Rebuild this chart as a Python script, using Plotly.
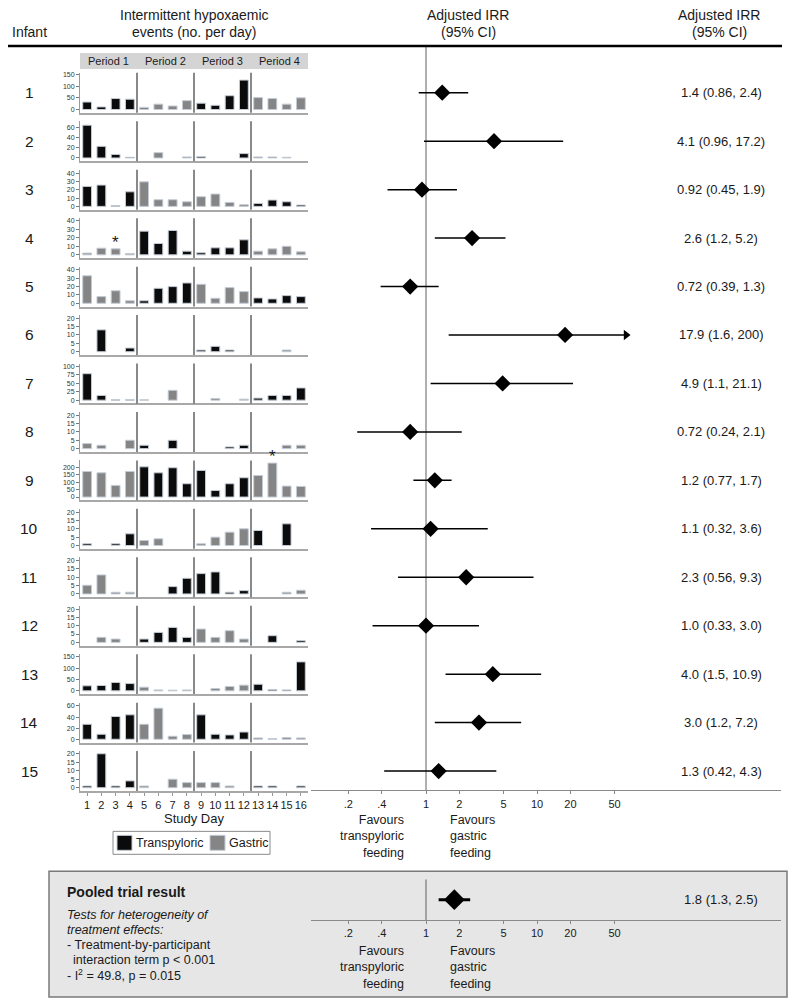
import plotly.graph_objects as go

# ---------------- data ----------------
infants = list(range(1, 16))
days = list(range(1, 17))
period_labels = ["Period 1", "Period 2", "Period 3", "Period 4"]
# arm per period: T = transpyloric, G = gastric
period_arm = ["TGTG", "TGTG", "TGGT", "GTTG", "GTGT", "TGTG", "TGGT", "GTTG",
              "GTTG", "TGGT", "GTTG", "GTGT", "TGGT", "TGTG", "TGGT"]
N = None
events = [
    [32, 11, 47, 44, 9, 23, 15, 38, 27, 18, 59, 126, 51, 47, 23, 50],
    [65, 23, 7, 1.3, N, 10.5, N, 2, 2.6, N, N, 8.6, 2, 2, 1.3, N],
    [24, 25.6, 1, 17.5, 29.5, 8, 8, 5.5, 11.6, 14.8, 4.8, 2, 3.6, 7.6, 5.5, 1.6],
    [2, 7.8, 7, 1.6, 27.8, 13.3, 28.6, 4.3, 2.4, 8.2, 8.2, 17.6, 4.3, 7, 10, 3.5],
    [33, 8, 15, 3, 3, 18, 20, 24.4, 22.8, 6, 18.8, 14, 6.4, 5.2, 9.2, 8],
    [N, 13, N, 2.2, N, N, N, N, 1, 3.2, 1, N, N, N, 1, N],
    [78, 14, 1.5, 1.5, 1, N, 29, N, N, 5, N, 3, 6, 14, 14, 36],
    [3, 2, N, 5, 2, N, 5, N, N, N, 1, 2, N, N, 2, 2],
    [171, 162, 78, 171, 202, 162, 196, 89, 178, 44, 89, 129, 144, 227, 73, 71],
    [1, N, 1, 7, 3, 4, N, N, 1, 5, 8, 10, 9, N, 13, N],
    [5.2, 11.4, 1, 1, N, N, 4.4, 9.4, 12.2, 13.2, 1, 2, N, N, 1, 2.2],
    [N, 3, 2, N, 2, 6, 9, 3, 8, 3, 7, 2, N, 4, N, 1],
    [22, 23.5, 37, 32, 16, 4, 3, 4, N, 10, 19, 25, 29, 6, 4, 128],
    [27, 9, 41, 44, 27, 56, 5.4, 8.4, 44, 9, 7.8, 13, 2.4, 1.2, 3, 2.4],
    [1, 20, 1, 4, 1, N, 5, 3, 3, 3, 1, N, 1, 1, N, 1],
]
y_ticks = [[0, 50, 100, 150], [0, 20, 40, 60], [0, 10, 20, 30, 40], [0, 10, 20, 30, 40],
           [0, 10, 20, 30, 40], [0, 5, 10, 15, 20], [0, 25, 50, 75, 100], [0, 5, 10, 15, 20],
           [0, 50, 100, 150, 200], [0, 5, 10, 15, 20], [0, 5, 10, 15, 20], [0, 5, 10, 15, 20],
           [0, 50, 100, 150], [0, 20, 40, 60], [0, 5, 10, 15, 20]]
asterisks = [(4, 3), (9, 14)]  # (infant, day)

irr = [1.4, 4.1, 0.92, 2.6, 0.72, 17.9, 4.9, 0.72, 1.2, 1.1, 2.3, 1.0, 4.0, 3.0, 1.3]
ci_low = [0.86, 0.96, 0.45, 1.2, 0.39, 1.6, 1.1, 0.24, 0.77, 0.32, 0.56, 0.33, 1.5, 1.2, 0.42]
ci_high = [2.4, 17.2, 1.9, 5.2, 1.3, 200, 21.1, 2.1, 1.7, 3.6, 9.3, 3.0, 10.9, 7.2, 4.3]
pooled_irr, pooled_low, pooled_high = 1.8, 1.3, 2.5
irr_tickvals = [0.2, 0.4, 1, 2, 5, 10, 20, 50]
irr_ticktext = [".2", ".4", "1", "2", "5", "10", "20", "50"]

# ---------------- style / layout ----------------
OFF = 8                      # page body margin of the html page
W, H = 800 - OFF, 1005 - OFF
FONT = "Liberation Sans, Arial, Helvetica, sans-serif"
TXT = "#1a1a1a"
BLACK_BAR = "#0b0b0b"
GRAY_BAR = "#858585"
axis_top = [157, 72.7, 44, 43, 44, 21.8, 108, 22, 245, 22, 22, 22, 162, 66, 21.6]
ROW_ZERO0, ROW_STEP = 107.7, 48.54
ARROW_CAP = 63.4


def px(xp):
    return (xp - OFF) / W


def py(yp):
    return 1 - (yp - OFF) / H


def sfx(k):
    return "" if k == 1 else str(k)


fig = go.Figure()
layout = dict(width=W, height=H, margin=dict(l=0, r=0, t=0, b=0),
              paper_bgcolor="white", plot_bgcolor="rgba(0,0,0,0)",
              showlegend=False, font=dict(family=FONT, color=TXT))
shapes, annos = [], []

colors = {"T": BLACK_BAR, "G": GRAY_BAR}
names = {"T": "Transpyloric", "G": "Gastric"}

for i, inf in enumerate(infants):
    k = i + 1
    s = sfx(k)
    zero = ROW_ZERO0 + ROW_STEP * i
    bottom = zero + 3.3
    top = bottom - 40
    for arm in ["T", "G"]:
        xs, ys = [], []
        for d, v in zip(days, events[i]):
            p = (d - 1) // 4
            if period_arm[i][p] == arm and v is not None:
                xs.append(d)
                ys.append(v)
        fig.add_trace(go.Bar(x=xs, y=ys, name=names[arm], width=0.62,
                             marker=dict(color=colors[arm],
                                         line=dict(color="#c3ccd6", width=1)),
                             xaxis=f"x{s}", yaxis=f"y{s}"))
    R = axis_top[i]
    last = (k == len(infants))
    layout[f"xaxis{s}"] = dict(domain=[px(80), px(308)], range=[0.5, 16.5], anchor=f"y{s}",
                               showline=True, linecolor="#a8a8a8", linewidth=2,
                               showgrid=False, zeroline=False,
                               tickvals=days, showticklabels=last, tickangle=0,
                               ticks="outside" if last else "", ticklen=3, tickcolor="#999",
                               tickfont=dict(size=11, color=TXT), fixedrange=True)
    layout[f"yaxis{s}"] = dict(domain=[py(bottom), py(top)], range=[-R * 3.3 / 36.7, R],
                               anchor=f"x{s}", showline=True, linecolor="#9a9a9a", linewidth=1,
                               showgrid=False, zeroline=False, tickvals=y_ticks[i],
                               ticks="outside", ticklen=3, tickcolor="#777",
                               tickfont=dict(size=7, color="#333"))
    for xv in [4.5, 8.5, 12.5]:
        shapes.append(dict(type="line", xref=f"x{s}", yref=f"y{s} domain", x0=xv, x1=xv,
                           y0=0, y1=1, line=dict(color="#4a4a4a", width=1.3)))

for inf, d in asterisks:
    v = events[inf - 1][d - 1]
    annos.append(dict(xref=f"x{sfx(inf)}", yref=f"y{sfx(inf)}", x=d, y=v, text="*",
                      showarrow=False, yanchor="bottom", yshift=-5,
                      font=dict(size=17, color=TXT)))

# period header strip
shapes.append(dict(type="rect", xref="paper", yref="paper", x0=px(80), x1=px(308),
                   y0=py(67), y1=py(51), fillcolor="#d4d4d4", line=dict(width=0), layer="below"))
for j, lab in enumerate(period_labels):
    annos.append(dict(xref="x", yref="paper", x=2.5 + 4 * j, y=py(59), text=lab,
                      showarrow=False, font=dict(size=11, color=TXT)))

annos.append(dict(xref="paper", yref="paper", x=px(194), y=py(818), text="Study Day",
                  showarrow=False, font=dict(size=13, color=TXT)))

# legend box
shapes.append(dict(type="rect", xref="paper", yref="paper", x0=px(113), x1=px(270),
                   y0=py(854), y1=py(831), line=dict(color="#8a8a8a", width=1), fillcolor="white"))
shapes.append(dict(type="rect", xref="paper", yref="paper", x0=px(117), x1=px(132),
                   y0=py(850), y1=py(835), line=dict(color="#c3ccd6", width=1), fillcolor=BLACK_BAR))
shapes.append(dict(type="rect", xref="paper", yref="paper", x0=px(210), x1=px(225),
                   y0=py(850), y1=py(835), line=dict(color="#c3ccd6", width=1), fillcolor=GRAY_BAR))
annos.append(dict(xref="paper", yref="paper", x=px(134), y=py(842.5), text="Transpyloric",
                  xanchor="left", showarrow=False, font=dict(size=12.5, color=TXT)))
annos.append(dict(xref="paper", yref="paper", x=px(227), y=py(842.5), text="Gastric",
                  xanchor="left", showarrow=False, font=dict(size=12.5, color=TXT)))

# ---------------- forest plot ----------------
FX, FY = "x16", "y16"
y_lo, y_hi = 0.034, 15.40
layout["xaxis16"] = dict(type="log", domain=[px(311), px(781)], range=[-1.036, 3.198],
                         anchor="y16", showline=True, linecolor="#8a8a8a", linewidth=1,
                         showgrid=False, zeroline=False, tickvals=irr_tickvals,
                         ticktext=irr_ticktext, ticks="outside", ticklen=3, tickcolor="#888",
                         tickfont=dict(size=11, color=TXT), tickangle=0)
layout["yaxis16"] = dict(domain=[py(790), py(44)], range=[y_hi, y_lo], anchor="x16",
                         visible=False)

fig.add_trace(go.Scatter(x=[1, 1], y=[y_lo, y_hi], mode="lines",
                         line=dict(color="#606060", width=1), xaxis=FX, yaxis=FY))
lx, ly, ax_, ay_ = [], [], [], []
for k, lo, hi in zip(infants, ci_low, ci_high):
    end = min(hi, ARROW_CAP)
    lx += [lo, end, None]
    ly += [k, k, None]
    if hi > ARROW_CAP:
        ax_.append(ARROW_CAP)
        ay_.append(k)
fig.add_trace(go.Scatter(x=lx, y=ly, mode="lines", line=dict(color="black", width=1.5),
                         xaxis=FX, yaxis=FY))
fig.add_trace(go.Scatter(x=ax_, y=ay_, mode="markers",
                         marker=dict(symbol="triangle-right", size=9, color="black"),
                         xaxis=FX, yaxis=FY))
fig.add_trace(go.Scatter(x=irr, y=infants, mode="markers",
                         marker=dict(symbol="diamond", size=12.5, color="black"),
                         xaxis=FX, yaxis=FY))

for k, v, lo, hi in zip(infants, irr, ci_low, ci_high):
    annos.append(dict(xref="paper", yref=FY, x=px(29), y=k, text=str(k), showarrow=False,
                      font=dict(size=15.5, color=TXT)))
    annos.append(dict(xref="paper", yref=FY, x=px(721), y=k, text=f"{v} ({lo}, {hi})",
                      showarrow=False, font=dict(size=13, color=TXT)))

# headers
shapes.append(dict(type="line", xref="paper", yref="paper", x0=px(5), x1=px(782),
                   y0=py(44), y1=py(44), line=dict(color="black", width=2.5)))
for xc, lines in [(29, [None, "Infant"]),
                  (194, ["Intermittent hypoxaemic", "events (no. per day)"]),
                  (468, ["Adjusted IRR", "(95% CI)"]),
                  (719, ["Adjusted IRR", "(95% CI)"])]:
    for yy, t in zip([13, 30], lines):
        if t:
            annos.append(dict(xref="paper", yref="paper", x=px(xc), y=py(yy), text=t,
                              showarrow=False, font=dict(size=14, color=TXT)))


def favours(ybase):
    annos.append(dict(xref="paper", yref="paper", x=px(406), y=py(ybase), yanchor="top",
                      xanchor="right", align="right",
                      text="Favours<br>transpyloric<br>feeding", showarrow=False,
                      font=dict(size=12.5, color=TXT)))
    annos.append(dict(xref="paper", yref="paper", x=px(448), y=py(ybase), yanchor="top",
                      xanchor="left", align="left",
                      text="Favours<br>gastric<br>feeding", showarrow=False,
                      font=dict(size=12.5, color=TXT)))


favours(811)

# ---------------- pooled box ----------------
shapes.append(dict(type="rect", xref="paper", yref="paper", x0=px(49), x1=px(787),
                   y0=py(997), y1=py(871), fillcolor="#e6e6e6",
                   line=dict(color="#7a7a7a", width=1.5), layer="below"))
layout["xaxis17"] = dict(type="log", domain=[px(311), px(781)], range=[-1.036, 3.198],
                         anchor="y17", showline=True, linecolor="#8a8a8a", linewidth=1,
                         showgrid=False, zeroline=False, tickvals=irr_tickvals,
                         ticktext=irr_ticktext, ticks="outside", ticklen=3, tickcolor="#888",
                         tickfont=dict(size=11, color=TXT), tickangle=0)
layout["yaxis17"] = dict(domain=[py(920), py(879)], range=[0, 1], anchor="x17", visible=False)
fig.add_trace(go.Scatter(x=[1, 1], y=[0, 1], mode="lines",
                         line=dict(color="#606060", width=1), xaxis="x17", yaxis="y17"))
fig.add_trace(go.Scatter(x=[pooled_low, pooled_high], y=[0.5, 0.5], mode="lines",
                         line=dict(color="black", width=3), xaxis="x17", yaxis="y17"))
fig.add_trace(go.Scatter(x=[pooled_irr], y=[0.5], mode="markers",
                         marker=dict(symbol="diamond", size=16, color="black"),
                         xaxis="x17", yaxis="y17"))
annos.append(dict(xref="paper", yref="y17", x=px(721), y=0.5,
                  text=f"{pooled_irr} ({pooled_low}, {pooled_high})", showarrow=False,
                  font=dict(size=13, color=TXT)))
annos.append(dict(xref="paper", yref="paper", x=px(65), y=py(892), xanchor="left",
                  text="<b>Pooled trial result</b>", showarrow=False,
                  font=dict(size=14, color=TXT)))
box_lines = [("<i>Tests for heterogeneity of</i>", 915),
             ("<i>treatment effects:</i>", 930),
             ("- Treatment-by-participant", 945),
             ("  interaction term p < 0.001", 960),
             ("- I<sup>2</sup> = 49.8, p = 0.015", 975)]
for t, yy in box_lines:
    annos.append(dict(xref="paper", yref="paper", x=px(65 if not t.startswith("  ") else 71),
                      y=py(yy), xanchor="left", text=t.strip(), showarrow=False,
                      font=dict(size=12.5, color=TXT)))
favours(942)

for a in annos:
    a.setdefault("xanchor", "center")
    a.setdefault("yanchor", "middle")

layout["shapes"] = shapes
layout["annotations"] = annos
fig.update_layout(**layout)
fig.update_traces(hoverinfo="skip")
fig.write_html("out.html")
